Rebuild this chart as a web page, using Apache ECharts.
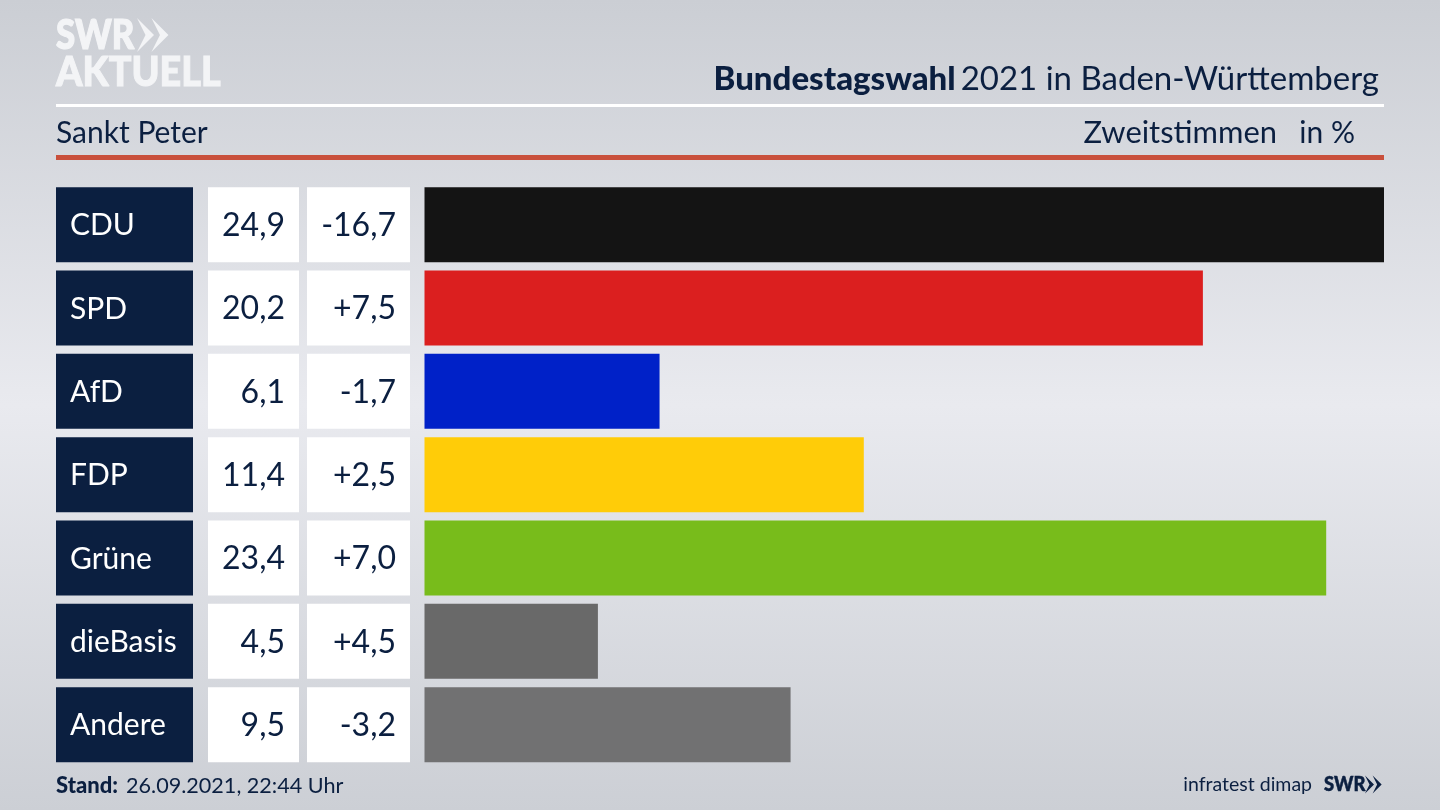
<!DOCTYPE html>
<html>
<head>
<meta charset="utf-8">
<style>
  html, body { margin: 0; padding: 0; }
  #chart { width: 1440px; height: 810px; }
</style>
<script src="https://cdn.jsdelivr.net/npm/echarts@6/dist/echarts.min.js"></script>
</head>
<body>
<div id="chart"></div>
<script>
const parties = ['CDU', 'SPD', 'AfD', 'FDP', 'Grüne', 'dieBasis', 'Andere'];
const votes = [24.9, 20.2, 6.1, 11.4, 23.4, 4.5, 9.5];
const changes = [-16.7, 7.5, -1.7, 2.5, 7.0, 4.5, -3.2];
const barColors = ['#141414', '#db1f1f', '#0021c8', '#ffcc08', '#78bc1b', '#696969', '#717172'];

const NAVY = '#0b1f40';
const LOGO = '#f3f4f6';
const FONT = 'Lato, "Noto Sans", sans-serif';

const fmt = (v) => v.toFixed(1).replace('.', ',');
const fmtChange = (v) => (v > 0 ? '+' : '') + fmt(v);

// Tabellenspalten links neben den Balken
const renderRow = (params, api) => {
  const i = api.value(0);
  const cy = api.coord([0, i])[1];
  const top = cy - 37.5;
  const cell = (x, width, fill) => ({
    type: 'rect',
    shape: { x, y: top, width, height: 75 },
    style: { fill }
  });
  const label = (x, text, fill, align, size) => ({
    type: 'text',
    style: { x, y: cy + 1, text, fill, align, verticalAlign: 'middle', font: '400 ' + size + 'px ' + FONT }
  });
  return {
    type: 'group',
    children: [
      cell(56, 137, NAVY),
      cell(208, 91, '#fff'),
      cell(307, 103, '#fff'),
      label(70, parties[i], '#fff', 'left', 30),
      label(285, fmt(votes[i]), NAVY, 'right', 32),
      label(396, fmtChange(changes[i]), NAVY, 'right', 32)
    ]
  };
};

const chevrons = (x, cy, h, fill) => [0, 0.85].map((o) => ({
  type: 'polygon',
  shape: {
    points: [
      [x + o * h * 0.5, cy - h / 2],
      [x + o * h * 0.5 + h * 0.5, cy],
      [x + o * h * 0.5, cy + h / 2],
      [x + o * h * 0.5 + h * 0.25, cy]
    ]
  },
  style: { fill }
}));

const text = (x, y, str, font, fill, align, scaleX, stroke) => ({
  type: 'text',
  x,
  y,
  scaleX: scaleX || 1,
  style: {
    x: 0, y: 0, text: str, font, fill,
    align: align || 'left',
    verticalAlign: 'middle',
    stroke: stroke ? fill : null,
    lineWidth: stroke || 0
  }
});

const myChart = echarts.init(document.getElementById('chart'));
myChart.setOption({
  animation: false,
  backgroundColor: new echarts.graphic.LinearGradient(0, 0, 0, 1, [
    { offset: 0, color: '#cbced4' },
    { offset: 0.5, color: '#e9eaef' },
    { offset: 1, color: '#cccfd5' }
  ]),
  title: {
    text: '{b|Bundestagswahl} {n|2021 in Baden-Württemberg}',
    right: 56,
    top: 58,
    textStyle: {
      rich: {
        b: { fontFamily: FONT, fontWeight: 900, fontSize: 33, color: NAVY },
        n: { fontFamily: FONT, fontWeight: 400, fontSize: 33, color: NAVY }
      }
    }
  },
  grid: { left: 424.5, right: 56, top: 183, height: 583.3 },
  xAxis: { type: 'value', min: 0, max: 24.9, show: false },
  yAxis: { type: 'category', data: parties, inverse: true, show: false },
  series: [
    {
      type: 'bar',
      barWidth: 75,
      data: votes.map((value, i) => ({ value, itemStyle: { color: barColors[i] } }))
    },
    {
      type: 'custom',
      renderItem: renderRow,
      coordinateSystem: 'cartesian2d',
      clip: false,
      encode: { x: 1, y: 0 },
      data: parties.map((p, i) => [i, 0])
    }
  ],
  graphic: [
    { type: 'rect', shape: { x: 56, y: 104, width: 1328, height: 3 }, style: { fill: '#fff' } },
    { type: 'rect', shape: { x: 56, y: 155, width: 1328, height: 5 }, style: { fill: '#c9503c' } },
    text(56, 36, 'SWR', '900 41px ' + FONT, LOGO, 'left', 0.85, 1.2),
    ...chevrons(137, 35, 34, LOGO),
    text(56, 73, 'AKTUELL', '900 41px ' + FONT, LOGO, 'left', 0.92, 1),
    text(56, 133, 'Sankt Peter', '400 30px ' + FONT, NAVY),
    text(1277, 133, 'Zweitstimmen', '400 30px ' + FONT, NAVY, 'right', 1.03),
    text(1355, 133, 'in %', '400 30px ' + FONT, NAVY, 'right'),
    text(56, 786, 'Stand:', '900 22px ' + FONT, NAVY),
    text(126, 786, '26.09.2021, 22:44 Uhr', '400 21.6px ' + FONT, NAVY),
    text(1312, 785, 'infratest dimap', '400 19.5px ' + FONT, NAVY, 'right'),
    text(1324, 785, 'SWR', '900 20px ' + FONT, NAVY, 'left', 0.92, 0.5),
    ...chevrons(1365, 784.5, 18, NAVY)
  ]
});
</script>
</body>
</html>
